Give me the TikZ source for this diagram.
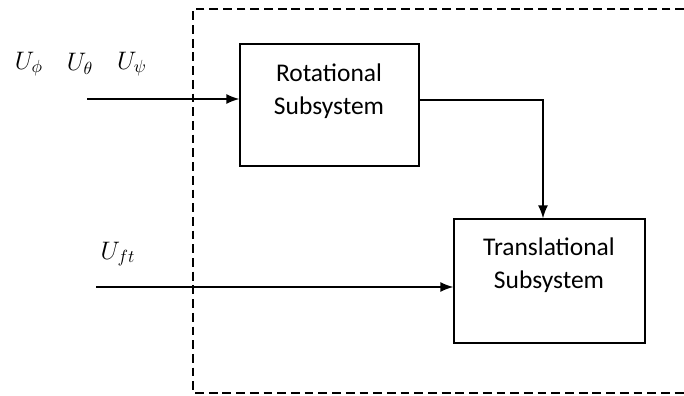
\documentclass[tikz,border=0pt]{standalone}
\usepackage{fontspec}
\setmainfont{Carlito}
\usetikzlibrary{arrows.meta,calc}
\tikzset{
	block/.style={draw, line width=0.8pt, minimum width=3.58cm, minimum height=2.44cm, inner sep=0pt},
	blocktext/.style={align=center, font=\fontsize{14.5}{19}\selectfont, inner sep=0pt},
	sig/.style={line width=0.8pt, -{Latex[length=2.6mm,width=2mm]}},
	siglabel/.style={font=\fontsize{14.5}{16}\selectfont, inner sep=0pt},
	boundary/.style={line width=1.1pt, dash pattern=on 5pt off 2.8pt}
}

\begin{document}
\begin{tikzpicture}[x=0.02cm, y=-0.02cm]
		%%%%% START %%%%%
		\useasboundingbox (0, 0) rectangle (684, 396);
		
		% subsystem boundary (open to the right)
		\draw[boundary] (684, 9) -- (193, 9) -- (193, 393) -- (684, 393);
		
		\node[block] (rot) at (329.5, 105) {};
		\node[blocktext] (rottext) at (329, 91) {Rotational\\Subsystem};
		
		\node[block, minimum width=3.82cm, minimum height=2.48cm] (trans) at (549.5, 281) {};
		\node[blocktext] (transtext) at (549, 265) {Translational\\Subsystem};
		
		\node[siglabel] (uphi) at (29, 64) {$U_\phi$};
		\node[siglabel] (utheta) at (80, 64) {$U_\theta$};
		\node[siglabel] (upsi) at (132, 64) {$U_\psi$};
		\node[siglabel] (uft) at (118, 254) {$U_{ft}$};
		
		\coordinate (in1) at (87, 99);
		\coordinate (in2) at (96, 287);
		\coordinate (bend) at (543, 100);
		
		\draw[sig] (in1) -- (in1 -| rot.west);
		\draw[sig] (in2) -- (in2 -| trans.west);
		\draw[sig] (bend -| rot.east) -- (bend) -- (bend |- trans.north);
		
		%%%%% END %%%%%
\end{tikzpicture}
\end{document}
